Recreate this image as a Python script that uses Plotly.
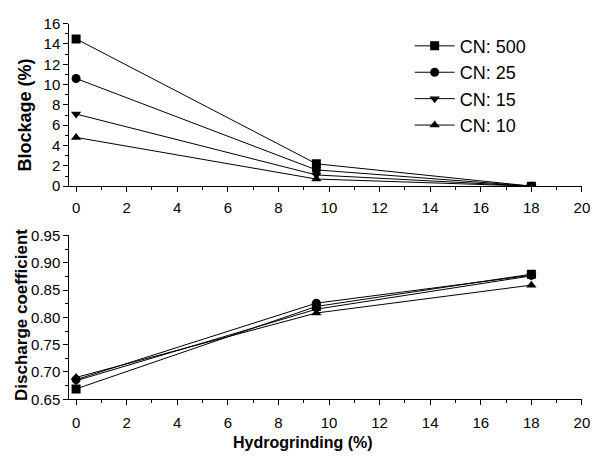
import plotly.graph_objects as go

hydro = [0, 9.5, 18]
series_names = ["CN: 500", "CN: 25", "CN: 15", "CN: 10"]
blockage_500 = [14.5, 2.2, 0.0]
blockage_25 = [10.6, 1.6, 0.0]
blockage_15 = [7.1, 1.1, 0.0]
blockage_10 = [4.8, 0.7, 0.0]
discharge_500 = [0.669, 0.820, 0.879]
discharge_25 = [0.686, 0.826, 0.877]
discharge_15 = [0.684, 0.815, 0.876]
discharge_10 = [0.690, 0.808, 0.859]

symbols = ["square", "circle", "triangle-down", "triangle-up"]
blockage = [blockage_500, blockage_25, blockage_15, blockage_10]
discharge = [discharge_500, discharge_25, discharge_15, discharge_10]

fig = go.Figure()
for name, sym, b in zip(series_names, symbols, blockage):
    fig.add_trace(go.Scatter(x=hydro, y=b, name=name, mode="lines+markers",
                             line=dict(color="black", width=1),
                             marker=dict(symbol=sym, size=9, color="black"),
                             xaxis="x", yaxis="y"))
for name, sym, d in zip(series_names, symbols, discharge):
    fig.add_trace(go.Scatter(x=hydro, y=d, name=name, mode="lines+markers",
                             line=dict(color="black", width=1),
                             marker=dict(symbol=sym, size=9, color="black"),
                             xaxis="x2", yaxis="y2", showlegend=False))

common = dict(showline=True, linecolor="black", linewidth=1, ticks="outside",
              ticklen=5, tickcolor="black", showgrid=False, zeroline=False,
              tickfont=dict(family="Arial", size=15, color="black"))

def mn(d):
    return dict(dtick=d, ticks="outside", ticklen=3, tickcolor="black")

fig.update_layout(
    width=600, height=461, margin=dict(l=0, r=0, t=0, b=0),
    paper_bgcolor="white", plot_bgcolor="white",
    font=dict(family="Arial", color="black"),
    xaxis=dict(domain=[0.117, 0.983], range=[-0.27, 20], dtick=2, anchor="y",
               minor=mn(1), ticklabelstandoff=3, **common),
    yaxis=dict(domain=[0.601, 0.967], range=[0, 16], dtick=2, anchor="x",
               minor=mn(1), **common),
    xaxis2=dict(domain=[0.117, 0.983], range=[-0.27, 20], dtick=2, anchor="y2",
                minor=mn(1), ticklabelstandoff=5, **common),
    yaxis2=dict(domain=[0.121, 0.490], range=[0.65, 0.95], dtick=0.05, tickformat=".2f", anchor="x2",
                minor=mn(0.025), **common),
    legend=dict(x=0.692, y=0.958, xanchor="left", yanchor="top",
                font=dict(family="Arial", size=18, color="black"),
                bgcolor="rgba(0,0,0,0)", tracegroupgap=0, itemwidth=40),
    annotations=[
        dict(text="<b>Blockage (%)</b>", x=25, y=110, showarrow=False, textangle=-90,
             font=dict(size=18, family="Arial")),
        dict(text="<b>Discharge coefficient</b>", x=22, y=318, showarrow=False,
             textangle=-90, font=dict(size=17, family="Arial")),
        dict(text="<b>Hydrogrinding (%)</b>", x=307, y=450, showarrow=False,
             font=dict(size=16, family="Arial")),
    ],
)
for a in fig.layout.annotations:
    a.update(xref="paper", yref="paper", x=a.x / 600, y=1 - a.y / 461,
             xanchor="center", yanchor="middle")
fig.write_html("out.html")
